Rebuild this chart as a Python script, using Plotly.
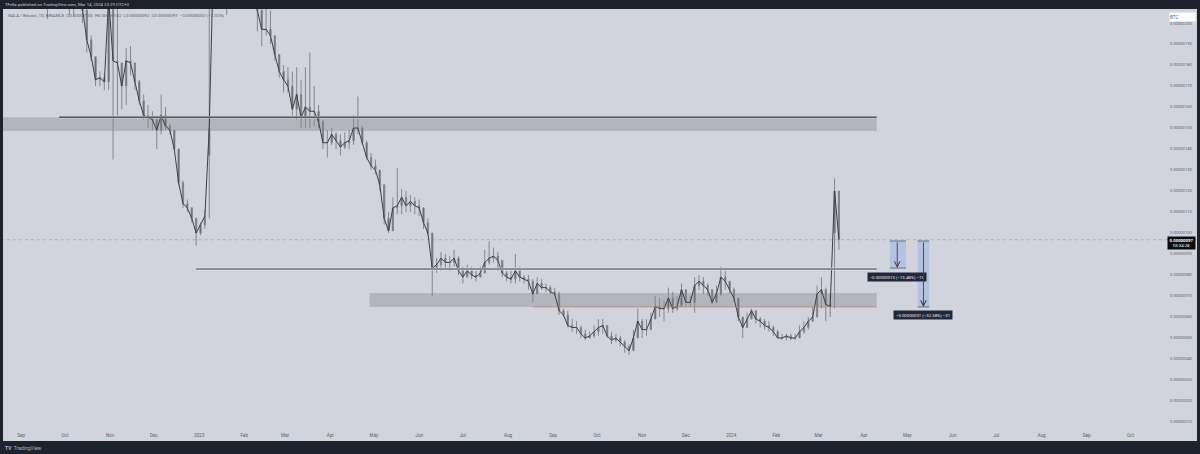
import plotly.graph_objects as go
import pandas as pd

# price values in satoshi (1e-8 BTC), one candle every three days
start_date = "2022-09-01"
opens = [245,240,235,232,236,230,226,222,228,232,
226,224,220,218,222,206,192,184,173,174,
172,212,182,181,170,182,181,172,163,156,
155,154,149,156,151,149,140,124,114,112,
107,100,104,137,232,235,240,236,230,238,
244,236,232,226,218,206,197,197,194,185,
177,173,170,159,166,155,160,158,158,153,
143,143,147,144,141,143,144,150,150,143,
136,132,130,123,107,101,112,113,117,113,
115,113,112,105,100,83,85,88,86,86,
88,82,79,82,80,79,81,86,88,89,
87,81,79,78,82,79,78,77,71,76,
74,74,72,71,63,61,56,55,55,52,
50,51,53,55,56,51,49,50,48,46,
44,50,58,54,54,59,65,64,64,69,
64,65,73,67,67,75,77,75,73,67,
71,79,77,73,69,60,55,59,63,59,
58,56,55,53,50,50,51,50,50,53,
55,58,60,71,73,66,100,120]
highs = [250,245,240,244,240,238,232,236,242,236,
234,230,228,232,224,207,194,184,177,176,
240,215,207,180,188,189,181,173,166,161,
158,156,166,160,152,149,140,125,116,112,
107,105,111,240,250,255,250,244,250,256,
250,246,240,232,222,207,207,206,194,185,
180,179,177,179,173,179,186,170,161,154,
149,150,148,147,148,149,156,165,151,144,
138,135,130,120,110,117,131,121,120,118,
117,116,112,107,99,88,91,90,89,92,
89,84,85,84,82,84,92,96,93,91,
85,82,82,90,84,80,80,78,79,78,
76,75,74,72,64,63,59,58,56,54,
53,56,59,59,56,53,52,51,49,47,
54,64,59,59,62,70,69,68,74,72,
70,76,73,70,79,80,79,76,73,75,
84,82,76,74,69,60,62,64,62,60,
59,58,56,54,52,52,52,52,56,58,
60,65,75,79,74,71,126,113]
lows = [215,220,222,225,218,212,202,216,220,214,
210,204,203,210,200,186,182,170,170,168,
168,135,156,159,161,175,168,161,154,150,
149,140,147,149,147,139,123,112,110,105,
94,99,102,107,212,225,222,204,224,232,
226,220,214,209,196,189,194,190,182,174,
167,167,156,154,150,150,150,151,150,140,
136,142,140,137,140,140,142,147,142,135,
130,128,120,104,100,101,109,109,110,110,
109,108,102,99,70,81,82,83,82,84,
80,76,80,78,77,79,82,85,86,82,
79,77,76,76,77,76,73,67,71,73,
72,71,70,61,60,55,53,52,50,49,
50,50,51,52,50,47,48,46,43,42,
44,51,50,51,55,59,60,58,62,62,
63,66,65,65,62,73,71,70,66,68,
70,73,71,67,58,50,55,60,57,55,
54,53,51,50,49,49,49,49,50,52,
54,58,60,64,58,60,64,92]
closes = [240,235,232,236,230,226,222,228,232,226,
224,220,218,222,206,192,184,173,174,172,
212,182,181,170,182,181,172,163,156,155,
154,149,156,151,149,140,124,114,112,107,
100,104,108,150,235,240,236,230,238,244,
236,232,226,218,206,197,197,194,185,177,
173,170,159,166,155,160,158,158,153,143,
143,147,144,141,143,144,150,150,143,136,
132,130,123,107,101,112,113,117,113,115,
113,112,105,100,83,85,88,86,86,88,
82,79,82,80,79,81,86,88,89,87,
81,79,78,82,79,78,77,71,76,74,
74,72,71,63,61,56,55,55,52,50,
51,53,55,56,51,49,50,48,46,44,
50,58,54,54,59,65,64,64,69,64,
65,73,67,67,75,77,75,73,67,71,
79,77,73,69,60,55,59,63,59,58,
56,55,53,50,50,51,50,50,53,55,
58,60,71,73,66,65,120,97]

price_ticks = [10,20,30,40,50,60,70,80,90,100,110,120,130,140,150,160,170,180,190,200]
month_ticks = ["2022-09-01","2022-10-01","2022-11-01","2022-12-01","2023-01-01","2023-02-01","2023-03-01",
               "2023-04-01","2023-05-01","2023-06-01","2023-07-01","2023-08-01","2023-09-01","2023-10-01",
               "2023-11-01","2023-12-01","2024-01-01","2024-02-01","2024-03-01","2024-04-01","2024-05-01",
               "2024-06-01","2024-07-01","2024-08-01","2024-09-01","2024-10-01"]
month_labels = ["Sep","Oct","Nov","Dec","2023","Feb","Mar","Apr","May","Jun","Jul","Aug","Sep","Oct",
                "Nov","Dec","2024","Feb","Mar","Apr","May","Jun","Jul","Aug","Sep","Oct"]

last_price = 96.8
upper_zone = (148.6, 155.2)
lower_zone = (64.8, 71.4)
upper_line = 155.2
lower_line = 82.9
zone_end = "2024-04-10"

dates = pd.date_range(start_date, periods=len(closes), freq="3D")
FONT = "Roboto"
TXT = "#5d606b"

fig = go.Figure(go.Candlestick(
    x=dates, open=opens, high=highs, low=lows, close=closes,
    increasing=dict(line=dict(color="#85878e", width=1.0), fillcolor="#45464b"),
    decreasing=dict(line=dict(color="#85878e", width=1.0), fillcolor="#45464b"),
    whiskerwidth=0, hoverinfo="skip", showlegend=False))
fig.add_trace(go.Scatter(x=dates, y=closes, mode="lines", hoverinfo="skip", showlegend=False,
                         line=dict(color="#3f4045", width=1.0)))

def rect(x0, x1, y0, y1, color, layer="below"):
    fig.add_shape(type="rect", xref="x", yref="y", x0=x0, x1=x1, y0=y0, y1=y1,
                  fillcolor=color, line_width=0, layer=layer)

def hline(x0, x1, y, color, width, dash="solid", layer="above"):
    fig.add_shape(type="line", xref="x", yref="y", x0=x0, x1=x1, y0=y, y1=y,
                  line=dict(color=color, width=width, dash=dash), layer=layer)

rect("2022-08-18", zone_end, upper_zone[0], upper_zone[1], "#b3b5bd")
rect("2023-04-28", zone_end, lower_zone[0], lower_zone[1], "#b3b5bd")
hline("2023-08-18", zone_end, lower_zone[0], "#c0757c", 0.7)
hline("2022-08-18", "2024-11-16", last_price, "#85888f", 0.5, "dot", "below")
for x0, y in [("2022-09-27", upper_line), ("2022-12-30", lower_line)]:
    hline(x0, zone_end, y, "#f2f3f6", 2.4)
    hline(x0, zone_end, y, "#26282e", 1.1)

# measure tools
measures = [("2024-04-19", "2024-04-24", "2024-04-30", 96.2, 83.3,
             "−0.00000013 (−13.48%) −13", "2024-04-24", 79.0),
            ("2024-05-08", "2024-05-12", "2024-05-16", 96.2, 64.8,
             "−0.00000031 (−32.58%) −31", "2024-05-12", 61.0)]
for x0, xc, x1, top, bottom, label, lx, ly in measures:
    rect(x0, x1, bottom, top, "#b4c3e2")
    hline(x0, x1, top, "#5b6270", 0.9)
    hline(x0, x1, bottom, "#5b6270", 0.9)
    fig.add_annotation(x=xc, y=bottom, ax=xc, ay=top, xref="x", yref="y", axref="x", ayref="y",
                       text="", showarrow=True, arrowhead=5, arrowsize=1.2, arrowwidth=0.9, arrowcolor="#3a3f4b")
    fig.add_annotation(x=lx, y=ly, xref="x", yref="y", text=label, showarrow=False, width=58, height=8,
                       bgcolor="#232838", borderpad=0, font=dict(family=FONT, size=4.3, color="#e9ebf1"))

# header, footer and price labels
fig.add_annotation(xref="paper", yref="paper", x=-0.0, y=1.0, yshift=5, xanchor="left", yanchor="middle", showarrow=False,
                   text="TFella published on TradingView.com, Mar 14, 2024 23:29 UTC+3",
                   font=dict(family=FONT, size=4.3, color="#c9ccd4"))
fig.add_annotation(xref="paper", yref="paper", x=0.0025, y=1.0, yshift=-6, xanchor="left", yanchor="middle", showarrow=False,
                   text="GALA / Bitcoin, 1D, BINANCE  O0.00000100  H0.00000102  L0.00000092  C0.00000097  −0.00000002 (−2.02%)",
                   font=dict(family=FONT, size=4.4, color=TXT))
fig.add_annotation(xref="paper", yref="paper", x=0.0, y=0, yshift=-7, xanchor="left", yanchor="middle", showarrow=False,
                   text="<b>TV</b>  TradingView", font=dict(family=FONT, size=5, color="#b2b5be"))
fig.add_annotation(xref="paper", yref="paper", x=0.9995, y=1.0, yshift=-7.5, xanchor="right", yanchor="middle", showarrow=False,
                   text="BTC", width=25, height=8, bgcolor="#ffffff", borderpad=0, align="left",
                   font=dict(family=FONT, size=4.6, color=TXT))
fig.add_annotation(xref="paper", yref="y", x=0.9995, y=last_price, yshift=-3.5, xanchor="right", yanchor="middle", showarrow=False,
                   text="<b>0.00000097</b><br>03:34:28", width=27, height=12, bgcolor="#0b0c10", borderpad=0, align="center",
                   font=dict(family=FONT, size=4.3, color="#ffffff"))

fig.update_layout(
    width=1200, height=454, autosize=False,
    margin=dict(l=3, r=3, t=9, b=13, pad=0),
    paper_bgcolor="#1e222d", plot_bgcolor="#d1d4dc",
    showlegend=False, dragmode=False, hovermode=False, boxgap=0.6,
    font=dict(family=FONT, size=4.6, color=TXT),
    xaxis=dict(type="date", range=["2022-08-19 12:00", "2024-11-15 16:00"], rangeslider=dict(visible=False),
               tickmode="array", tickvals=month_ticks, ticktext=month_labels,
               ticklabelposition="inside", ticks="", showgrid=False, zeroline=False, showline=False,
               tickfont=dict(family=FONT, size=4.6, color=TXT)),
    yaxis=dict(side="right", range=[0.95, 206.7], tickmode="array", tickvals=price_ticks,
               ticktext=[f"{v * 1e-8:.8f}" for v in price_ticks],
               ticklabelposition="inside", ticks="inside", ticklen=3, tickcolor="#d1d4dc",
               showgrid=False, zeroline=False, showline=False,
               tickfont=dict(family=FONT, size=4.1, color=TXT)),
)

fig.write_html("out.html", config=dict(displayModeBar=False),
               post_script="document.documentElement.style.margin='0';document.body.style.margin='0';document.body.style.overflow='hidden';document.body.style.background='#1e222d';")
